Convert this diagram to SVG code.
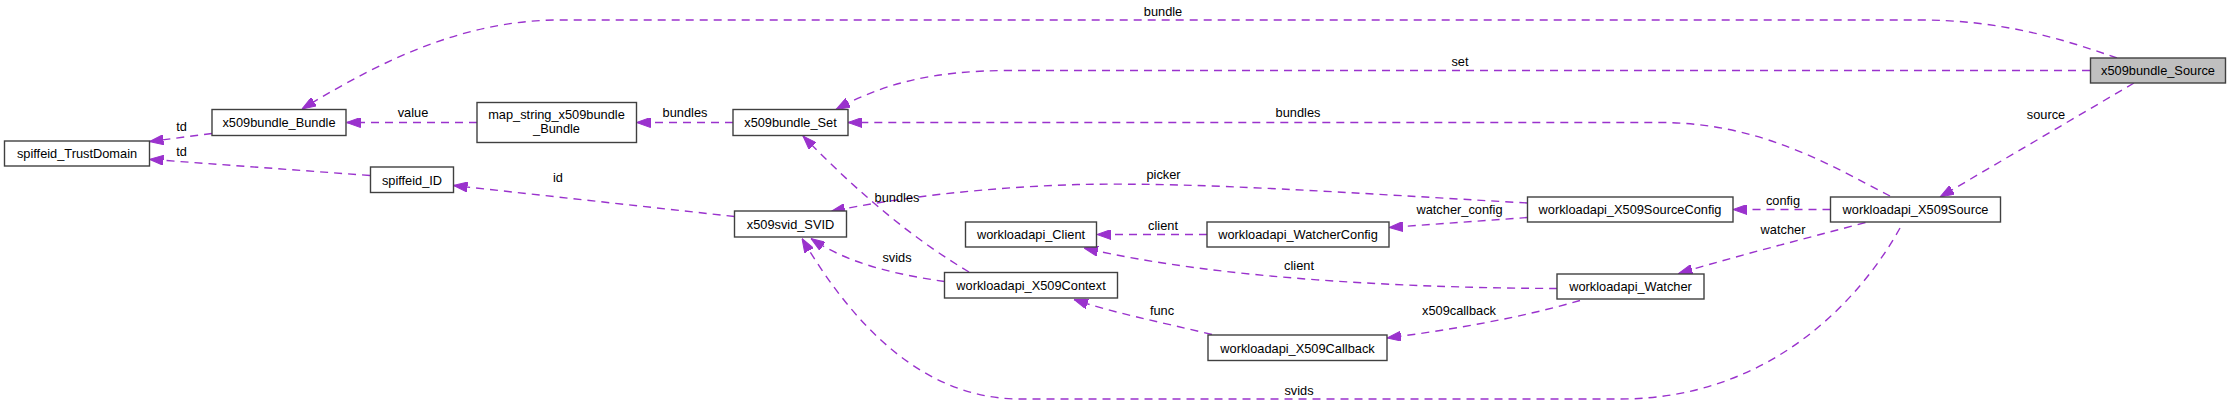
<svg xmlns="http://www.w3.org/2000/svg" width="2231" height="405" viewBox="0 0 2231 405">
<style>
.n rect{fill:#fff;stroke:#404040;stroke-width:1.4}
.n.g rect{fill:#bfbfbf}
text{font-family:"Liberation Sans",Arial,sans-serif;font-size:12.8px;fill:#000}
.n text{text-anchor:middle}
.e path{fill:none;stroke:#9a32cd;stroke-width:1.4;stroke-dasharray:8,6;marker-end:url(#ah)}
.l{text-anchor:middle}
</style>
<defs>
<marker id="ah" markerUnits="userSpaceOnUse" viewBox="0 0 14 10" refX="14" refY="5" markerWidth="14" markerHeight="10" orient="auto">
<path d="M0,0 L14,5 L0,10 Z" fill="#9a32cd" stroke="#9a32cd" stroke-width="1"/>
</marker>
</defs>
<rect width="2231" height="405" fill="#fff"/>
<g id="edges" class="e">
<path d="M2117,58 C2060,38 2000,20 1920,20 L560,20 C470,20 390,55 302,109"/>
<path d="M2090,70.5 L1010,70.5 C930,70.5 880,85 836,109.5"/>
<path d="M1890,196 C1830,165 1760,122.5 1660,122.5 L848,122.5"/>
<path d="M2134,83 L1940,197"/>
<path d="M733,122.5 L636.5,122.5"/>
<path d="M477,122.5 L346.5,122.5"/>
<path d="M212,133.5 L149.5,141.5"/>
<path d="M370,175.5 L149.5,159.3"/>
<path d="M734.5,216.5 L453.5,185.5"/>
<path d="M1527.5,203 C1350,193 1200,182 1080,184.5 C990,187 900,197 831,211.5"/>
<path d="M969,272 C915,240 860,195 803,136"/>
<path d="M944.5,281.5 C900,275 850,265 811,238.5"/>
<path d="M1900,228 C1860,300 1770,399 1620,399 L1020,399 C920,399 850,320 802,238.5"/>
<path d="M1830.5,209.5 L1733,209.5"/>
<path d="M1865.5,222.5 C1800,240 1740,255 1678.5,273.5"/>
<path d="M1527.5,217.5 L1389,227.5"/>
<path d="M1207,234.5 L1097,234.5"/>
<path d="M1557,288.5 C1420,288 1220,280 1084,248"/>
<path d="M1580,300.5 C1520,318 1450,330 1387,338"/>
<path d="M1212,334.5 C1160,322 1110,312 1074,299.5"/>
</g>
<g id="edge-labels">
<text class="l" x="1163" y="16">bundle</text>
<text class="l" x="1460" y="66">set</text>
<text class="l" x="1298" y="117">bundles</text>
<text class="l" x="2046" y="119">source</text>
<text class="l" x="685" y="117">bundles</text>
<text class="l" x="413" y="117">value</text>
<text class="l" x="181.5" y="131">td</text>
<text class="l" x="181.5" y="155.5">td</text>
<text class="l" x="558" y="182">id</text>
<text class="l" x="1163.5" y="179">picker</text>
<text class="l" x="897" y="202">bundles</text>
<text class="l" x="897" y="262">svids</text>
<text class="l" x="1299" y="395">svids</text>
<text class="l" x="1783" y="205">config</text>
<text class="l" x="1783" y="234">watcher</text>
<text class="l" x="1459.5" y="214">watcher_config</text>
<text class="l" x="1163" y="230">client</text>
<text class="l" x="1299" y="270">client</text>
<text class="l" x="1459" y="315">x509callback</text>
<text class="l" x="1162" y="315">func</text>
</g>
<g id="x509bundle_Source" class="n g"><rect x="2090.5" y="58" width="135" height="25"/><text x="2158" y="75">x509bundle_Source</text></g>
<g id="x509bundle_Bundle" class="n"><rect x="212" y="109.5" width="134" height="26"/><text x="279" y="127">x509bundle_Bundle</text></g>
<g id="spiffeid_TrustDomain" class="n"><rect x="4.5" y="141" width="145" height="25"/><text x="77" y="158">spiffeid_TrustDomain</text></g>
<g id="map_string_x509bundle_Bundle" class="n"><rect x="477" y="102.5" width="159.5" height="40"/><text x="556.5" y="118.5">map_string_x509bundle</text><text x="556.5" y="133">_Bundle</text></g>
<g id="spiffeid_ID" class="n"><rect x="370.5" y="167" width="83" height="25.5"/><text x="412" y="184.5">spiffeid_ID</text></g>
<g id="x509bundle_Set" class="n"><rect x="733" y="109.5" width="115" height="26"/><text x="790.5" y="127">x509bundle_Set</text></g>
<g id="x509svid_SVID" class="n"><rect x="734.5" y="211" width="112" height="26"/><text x="790.5" y="228.5">x509svid_SVID</text></g>
<g id="workloadapi_Client" class="n"><rect x="965.5" y="222" width="131" height="25"/><text x="1031" y="239">workloadapi_Client</text></g>
<g id="workloadapi_X509Context" class="n"><rect x="944.5" y="272.5" width="173" height="25.5"/><text x="1031" y="290">workloadapi_X509Context</text></g>
<g id="workloadapi_WatcherConfig" class="n"><rect x="1207" y="222" width="182" height="25"/><text x="1298" y="239">workloadapi_WatcherConfig</text></g>
<g id="workloadapi_X509Callback" class="n"><rect x="1208" y="335" width="179" height="25.5"/><text x="1297.5" y="352.5">workloadapi_X509Callback</text></g>
<g id="workloadapi_X509SourceConfig" class="n"><rect x="1527.5" y="197" width="205.5" height="25"/><text x="1630" y="214">workloadapi_X509SourceConfig</text></g>
<g id="workloadapi_Watcher" class="n"><rect x="1557" y="274" width="147" height="25"/><text x="1630.5" y="291">workloadapi_Watcher</text></g>
<g id="workloadapi_X509Source" class="n"><rect x="1830.5" y="197" width="170" height="25"/><text x="1915.5" y="214">workloadapi_X509Source</text></g>
</svg>
